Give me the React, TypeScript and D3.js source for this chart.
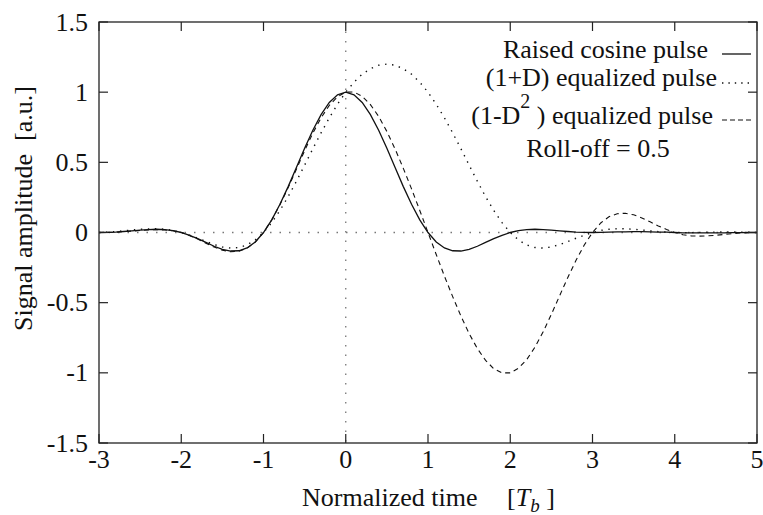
import React from "react";
import * as d3 from "d3";

const xTicks = [-3, -2, -1, 0, 1, 2, 3, 4, 5];
const yTicks = [-1.5, -1, -0.5, 0, 0.5, 1, 1.5];
const yTickLabels = ["-1.5", "-1", "-0.5", "0", "0.5", "1", "1.5"];

// time grid: -3 .. 5 in steps of 0.1 T_b
const timeGrid = d3.range(81).map((i) => -3 + i / 10);

const raisedCosine = [
  0.0, 0.001, 0.003, 0.007, 0.012, 0.017, 0.021, 0.023, 0.021, 0.014,
  0.0, -0.02, -0.044, -0.071, -0.098, -0.12, -0.132, -0.13, -0.11, -0.067,
  0.0, 0.09, 0.201, 0.327, 0.463, 0.6, 0.729, 0.84, 0.927, 0.981,
  1.0, 0.981, 0.927, 0.84, 0.729, 0.6, 0.463, 0.327, 0.201, 0.09,
  0.0, -0.067, -0.11, -0.13, -0.132, -0.12, -0.098, -0.071, -0.044, -0.02,
  0.0, 0.014, 0.021, 0.023, 0.021, 0.017, 0.012, 0.007, 0.003, 0.001,
  0.0, 0.001, 0.002, 0.004, 0.005, 0.006, 0.006, 0.005, 0.003, 0.002,
  0.0, -0.002, -0.003, -0.003, -0.003, -0.003, -0.002, -0.001, -0.001, 0.0,
  0.0,
];

const equalized1D = [
  0.0, 0.003, 0.006, 0.012, 0.018, 0.023, 0.026, 0.027, 0.023, 0.015,
  0.0, -0.019, -0.041, -0.064, -0.086, -0.103, -0.111, -0.107, -0.089, -0.053,
  0.0, 0.07, 0.157, 0.256, 0.365, 0.48, 0.597, 0.71, 0.817, 0.914,
  1.0, 1.071, 1.128, 1.167, 1.192, 1.2, 1.192, 1.167, 1.128, 1.071,
  1.0, 0.914, 0.817, 0.71, 0.597, 0.48, 0.365, 0.256, 0.157, 0.07,
  0.0, -0.053, -0.089, -0.107, -0.111, -0.103, -0.086, -0.064, -0.041, -0.019,
  0.0, 0.015, 0.023, 0.027, 0.026, 0.023, 0.018, 0.012, 0.006, 0.003,
  0.0, -0.001, -0.001, 0.001, 0.002, 0.003, 0.004, 0.004, 0.002, 0.002,
  0.0,
];

const equalized1D2 = [
  0.0, 0.001, 0.002, 0.006, 0.01, 0.014, 0.018, 0.02, 0.018, 0.012,
  0.0, -0.022, -0.047, -0.076, -0.104, -0.126, -0.137, -0.134, -0.112, -0.068,
  0.0, 0.089, 0.198, 0.32, 0.451, 0.583, 0.708, 0.817, 0.906, 0.967,
  1.0, 1.001, 0.971, 0.911, 0.827, 0.72, 0.595, 0.457, 0.311, 0.157,
  0.0, -0.157, -0.311, -0.457, -0.595, -0.72, -0.827, -0.911, -0.971, -1.001,
  -1.0, -0.967, -0.906, -0.817, -0.708, -0.583, -0.451, -0.32, -0.198, -0.089,
  0.0, 0.068, 0.112, 0.134, 0.137, 0.126, 0.104, 0.076, 0.047, 0.022,
  0.0, -0.016, -0.024, -0.026, -0.024, -0.02, -0.014, -0.008, -0.004, -0.001,
  0.0,
];

const seriesNames = [
  "Raised cosine pulse",
  "(1+D) equalized pulse",
  "(1-D2) equalized pulse",
];
const annotation = "Roll-off = 0.5";

const W = 763;
const H = 515;
const plot = { left: 99, right: 757, top: 22, bottom: 443 };
const FS = 26;
const TICK = 9;
const SERIF = "Times New Roman";

export default function App() {
  const x = d3.scaleLinear().domain([-3, 5]).range([plot.left, plot.right]);
  const y = d3.scaleLinear().domain([-1.5, 1.5]).range([plot.bottom, plot.top]);

  const line = d3
    .line<number>()
    .x((_, i) => x(timeGrid[i]))
    .y((d) => y(d));

  const styles = [
    { dash: "none", legendDash: "none", width: 1.3 },
    { dash: "1.4 5.6", legendDash: "1.4 5", width: 1.4 },
    { dash: "5 4", legendDash: "5 3", width: 1.1 },
  ];
  const series = [raisedCosine, equalized1D, equalized1D2];

  const legendRows = [
    { textRight: 708, baseline: 58, lineY: 54 },
    { textRight: 717, baseline: 86, lineY: 83 },
    { textRight: 713, baseline: 124, lineY: 120 },
  ];

  const ts = { fontFamily: SERIF, fontSize: FS, fill: "#111" } as React.CSSProperties;

  return (
    <svg width={W} height={H} style={{ position: "absolute", left: 0, top: 0 }}>
      <style>{`svg text { font-family: "Times New Roman", "Liberation Serif", Tinos, serif; }`}</style>
      <rect x={0} y={0} width={W} height={H} fill="#fff" />
      <line
        x1={plot.left}
        x2={plot.right}
        y1={y(0)}
        y2={y(0)}
        stroke="#777"
        strokeWidth={1.3}
        strokeDasharray="1.5 8"
      />
      <line
        x1={x(0)}
        x2={x(0)}
        y1={plot.top}
        y2={plot.bottom}
        stroke="#777"
        strokeWidth={1.3}
        strokeDasharray="1.5 8"
      />

      {series.map((s, i) => (
        <path
          key={i}
          d={line(s) || ""}
          fill="none"
          stroke="#111"
          strokeWidth={styles[i].width}
          strokeDasharray={styles[i].dash}
        />
      ))}

      <rect
        x={plot.left}
        y={plot.top}
        width={plot.right - plot.left}
        height={plot.bottom - plot.top}
        fill="none"
        stroke="#222"
        strokeWidth={1.3}
      />

      {xTicks.map((t) => (
        <line key={"xb" + t} x1={x(t)} x2={x(t)} y1={plot.bottom} y2={plot.bottom - TICK} stroke="#222" strokeWidth={1.2} />
      ))}
      {xTicks.map((t) => (
        <line key={"xt" + t} x1={x(t)} x2={x(t)} y1={plot.top} y2={plot.top + TICK} stroke="#222" strokeWidth={1.2} />
      ))}
      {xTicks.map((t) => (
        <text key={"xl" + t} x={x(t)} y={468} textAnchor="middle" style={ts}>
          {String(t)}
        </text>
      ))}

      {yTicks.map((t) => (
        <line key={"yl" + t} x1={plot.left} x2={plot.left + TICK} y1={y(t)} y2={y(t)} stroke="#222" strokeWidth={1.2} />
      ))}
      {yTicks.map((t) => (
        <line key={"yr" + t} x1={plot.right} x2={plot.right - TICK} y1={y(t)} y2={y(t)} stroke="#222" strokeWidth={1.2} />
      ))}
      {yTicks.map((t, i) => (
        <text key={"yt" + t} x={88} y={y(t) + 8.5} textAnchor="end" style={ts}>
          {yTickLabels[i]}
        </text>
      ))}

      <text transform="translate(32, 208.5) rotate(-90)" textAnchor="middle" style={ts}>
        {"Signal amplitude\u00A0\u00A0[a.u.]"}
      </text>
      <text x={302} y={506} style={ts}>
        {"Normalized time"}
      </text>
      <text x={507} y={506} style={ts}>
        {"["}
        <tspan fontStyle="italic">T</tspan>
        <tspan fontStyle="italic" fontSize={19} dy={6}>
          b
        </tspan>
        <tspan dy={-6}>{"\u00A0]"}</tspan>
      </text>

      <text x={legendRows[0].textRight} y={legendRows[0].baseline} textAnchor="end" style={ts}>
        {seriesNames[0]}
      </text>
      <text x={legendRows[1].textRight} y={legendRows[1].baseline} textAnchor="end" style={ts}>
        {seriesNames[1]}
      </text>
      <text x={legendRows[2].textRight} y={legendRows[2].baseline} textAnchor="end" style={ts}>
        {"(1-D"}
        <tspan fontSize={20} dy={-16}>
          2
        </tspan>
        <tspan dy={16}>{"\u00A0) equalized pulse"}</tspan>
      </text>
      {legendRows.map((r, i) => (
        <line
          key={"leg" + i}
          x1={722}
          x2={751}
          y1={r.lineY}
          y2={r.lineY}
          stroke="#111"
          strokeWidth={styles[i].width}
          strokeDasharray={styles[i].legendDash}
        />
      ))}
      <text x={598} y={157} textAnchor="middle" style={ts}>
        {annotation}
      </text>
    </svg>
  );
}
